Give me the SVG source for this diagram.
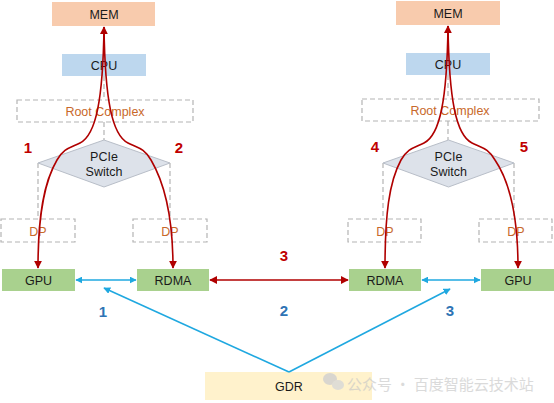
<svg xmlns="http://www.w3.org/2000/svg" width="554" height="403" viewBox="0 0 554 403">
<defs>
<style>
text{font-family:"Liberation Sans",Arial,sans-serif;font-size:12.5px;text-anchor:middle;fill:#1a1a1a}
.dash{fill:none;stroke:#b4b4b4;stroke-width:1.2;stroke-dasharray:5,3}
.dp{fill:#fff;stroke:#b4b4b4;stroke-width:1.2;stroke-dasharray:5,3}
.or{fill:#c8682a}
.mem{fill:#f8cbad}
.cpu{fill:#bdd7ee}
.grn{fill:#a9d18e}
.sw{fill:#dde2ea;stroke:#b8bec8;stroke-width:1}
.red{fill:none;stroke:#b00000;stroke-width:1.6}
.blue{fill:none;stroke:#1fa8e0;stroke-width:1.6}
.nr{fill:#c00000;font-weight:bold;font-size:15px}
.nb{fill:#2e74b5;font-weight:bold;font-size:15px}
.wm{fill:#c8c8c8;font-family:"Noto Sans CJK SC",sans-serif;font-size:15px;text-anchor:start;opacity:0.8}
</style>
<marker id="ar" viewBox="0 0 10 10" refX="9" refY="5" markerWidth="8" markerHeight="8" markerUnits="userSpaceOnUse" orient="auto-start-reverse"><path d="M0,0 L10,5 L0,10 Z" fill="#b00000"/></marker>
<marker id="ab" viewBox="0 0 10 10" refX="9" refY="5" markerWidth="7" markerHeight="7" markerUnits="userSpaceOnUse" orient="auto-start-reverse"><path d="M0,0 L10,5 L0,10 Z" fill="#1fa8e0"/></marker>
</defs>
<rect width="554" height="403" fill="#fff"/>

<g id="structure-lines">
<path class="dash" d="M104,76 V100 M104,122 V140 M38,163 V219 M170,163 V219"/>
<path class="dash" d="M448,75 V99 M448,121 V140 M383,163 V219 M514,163 V219"/>
</g>

<g id="mem-left"><rect class="mem" x="52" y="2" width="103" height="24"/><text x="104" y="18.5">MEM</text></g>
<g id="cpu-left"><rect class="cpu" x="62" y="54" width="84" height="22"/><text x="104" y="69.5">CPU</text></g>
<g id="rc-left"><rect class="dp" x="17" y="100" width="176" height="22"/><text class="or" x="105" y="115.5">Root Complex</text></g>
<g id="switch-left"><polygon class="sw" points="104,140 170,163 104,187 38,163"/><text x="104" y="161">PCIe</text><text x="104" y="176">Switch</text></g>
<g id="dp-l1"><rect class="dp" x="1" y="219" width="74" height="23"/><text class="or" x="38" y="236">DP</text></g>
<g id="dp-l2"><rect class="dp" x="133" y="219" width="74" height="23"/><text class="or" x="170" y="236">DP</text></g>
<g id="gpu-left"><rect class="grn" x="2" y="269" width="73" height="22"/><text x="38.5" y="285">GPU</text></g>
<g id="rdma-left"><rect class="grn" x="137" y="269" width="72" height="22"/><text x="173" y="285">RDMA</text></g>

<g id="mem-right"><rect class="mem" x="396" y="1" width="104" height="24"/><text x="448" y="17.5">MEM</text></g>
<g id="cpu-right"><rect class="cpu" x="406" y="53" width="84" height="22"/><text x="448" y="68.5">CPU</text></g>
<g id="rc-right"><rect class="dp" x="362" y="99" width="177" height="22"/><text class="or" x="450" y="114.5">Root Complex</text></g>
<g id="switch-right"><polygon class="sw" points="448.5,140 514,163 448.5,187 383,163"/><text x="448.5" y="161">PCIe</text><text x="448.5" y="176">Switch</text></g>
<g id="dp-r1"><rect class="dp" x="348" y="219" width="73" height="23"/><text class="or" x="385" y="236">DP</text></g>
<g id="dp-r2"><rect class="dp" x="479" y="219" width="73" height="23"/><text class="or" x="516" y="236">DP</text></g>
<g id="rdma-right"><rect class="grn" x="349" y="269" width="72" height="22"/><text x="385" y="285">RDMA</text></g>
<g id="gpu-right"><rect class="grn" x="481" y="269" width="73" height="22"/><text x="518" y="285">GPU</text></g>

<g id="gdr"><rect x="205" y="372" width="167" height="28" fill="#fff2cc"/><text x="289" y="391">GDR</text></g>

<g id="connectors">
<path class="red" marker-start="url(#ar)" marker-end="url(#ar)" d="M104,27 C103,100 96,135 80,143 C70,148 64,148 57,160 C44,182 38,215 38,268"/>
<path class="red" marker-end="url(#ar)" d="M104,27 C105,100 112,135 128,143 C138,148 144,148 151,160 C164,182 173,215 173,268"/>
<path class="red" marker-start="url(#ar)" marker-end="url(#ar)" d="M448,26 C447,100 440,135 424,143 C414,148 408,148 401,160 C389,182 385,215 385,268"/>
<path class="red" marker-end="url(#ar)" d="M448,26 C449,100 456,135 472,143 C482,148 488,148 495,160 C510,182 518,215 518,268"/>
<path class="red" marker-start="url(#ar)" marker-end="url(#ar)" d="M210,280 H348"/>
<path class="blue" marker-start="url(#ab)" marker-end="url(#ab)" d="M76,280 H136"/>
<path class="blue" marker-start="url(#ab)" marker-end="url(#ab)" d="M422,280 H480"/>
<path class="blue" marker-end="url(#ab)" d="M289,372 L104,288"/>
<path class="blue" marker-end="url(#ab)" d="M289,372 L450,289"/>
</g>

<g id="labels">
<text class="nr" x="28" y="153">1</text>
<text class="nr" x="179" y="153">2</text>
<text class="nr" x="284" y="261">3</text>
<text class="nr" x="375" y="152">4</text>
<text class="nr" x="524" y="152">5</text>
<text class="nb" x="103" y="317">1</text>
<text class="nb" x="284" y="316">2</text>
<text class="nb" x="450" y="316">3</text>
</g>

<g id="watermark" opacity="0.8">
<ellipse cx="330" cy="379" rx="7" ry="6" fill="#d0d0d0"/>
<ellipse cx="338" cy="385" rx="6" ry="5" fill="#d8d8d8"/>
<text class="wm" x="347" y="390">公众号 · 百度智能云技术站</text>
</g>
</svg>
